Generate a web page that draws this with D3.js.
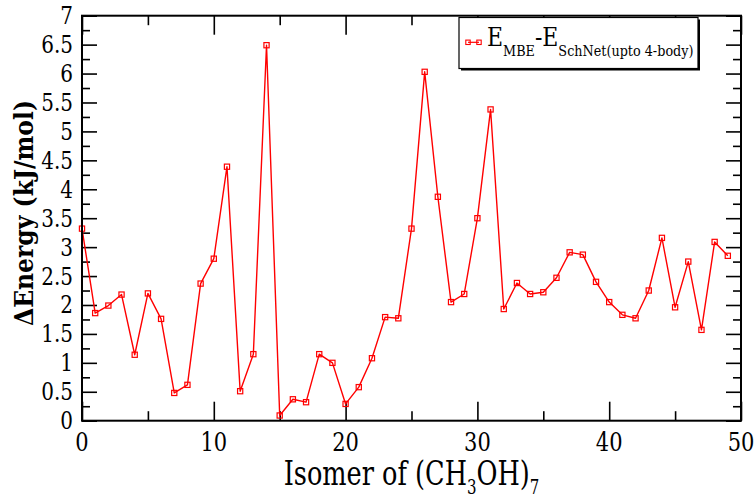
<!DOCTYPE html>
<html>
<head>
<meta charset="utf-8">
<script src="https://cdn.jsdelivr.net/npm/d3@7"></script>
<style>
  html, body { margin: 0; padding: 0; background: #fff; }
  svg { display: block; }
</style>
</head>
<body>
<div id="chart"></div>
<script>
// isomer index and energy difference (kJ/mol)
const isomers = [0,1,2,3,4,5,6,7,8,9,10,11,12,13,14,15,16,17,18,19,20,21,22,23,24,
  25,26,27,28,29,30,31,32,33,34,35,36,37,38,39,40,41,42,43,44,45,46,47,48,49];
const deltaE = [3.32,1.86,1.99,2.18,1.14,2.20,1.76,0.48,0.62,2.37,2.80,4.39,0.51,1.15,6.49,
  0.09,0.37,0.32,1.15,1.00,0.29,0.58,1.08,1.79,1.77,3.32,6.03,3.87,2.05,2.19,3.50,5.38,
  1.93,2.38,2.19,2.22,2.47,2.91,2.87,2.40,2.05,1.83,1.77,2.25,3.16,1.96,2.75,1.57,3.09,2.85];

const xMajor = [0,10,20,30,40,50];
const xMinor = [5,15,25,35,45];
const yMajor = [0,0.5,1,1.5,2,2.5,3,3.5,4,4.5,5,5.5,6,6.5,7];
const yMinor = [0.25,0.75,1.25,1.75,2.25,2.75,3.25,3.75,4.25,4.75,5.25,5.75,6.25,6.75];

const width = 756;
const height = 497;
const plotL = 82, plotR = 741, plotT = 15.7, plotB = 420.7;
const serif = 'DejaVu Serif';
const stretch = 1.2; // the original picture is taller than its fonts are wide

const x = d3.scaleLinear().domain([0, 50]).range([plotL, plotR]);
const y = d3.scaleLinear().domain([0, 7]).range([plotB, plotT]);

const svg = d3.select('#chart')
  .append('svg')
  .attr('width', width)
  .attr('height', height)
  .attr('viewBox', [0, 0, width, height]);

// ticks on all four sides, pointing inwards
function tickAxis(axis, values, size, at) {
  const g = svg.append('g')
    .attr('transform', at)
    .call(axis.tickValues(values).tickSize(size).tickSizeOuter(0).tickFormat(''));
  g.select('.domain').remove();
  g.selectAll('line').attr('stroke', '#000').attr('stroke-width', 1.6);
  g.selectAll('text').remove();
  return g;
}

tickAxis(d3.axisBottom(x), xMajor, -19, `translate(0,${plotB})`);
tickAxis(d3.axisBottom(x), xMinor, -9.5, `translate(0,${plotB})`);
tickAxis(d3.axisTop(x), xMajor, -19, `translate(0,${plotT})`);
tickAxis(d3.axisTop(x), xMinor, -9.5, `translate(0,${plotT})`);
tickAxis(d3.axisLeft(y), yMajor, -15, `translate(${plotL},0)`);
tickAxis(d3.axisLeft(y), yMinor, -8, `translate(${plotL},0)`);
tickAxis(d3.axisRight(y), yMajor, -15, `translate(${plotR},0)`);
tickAxis(d3.axisRight(y), yMinor, -8, `translate(${plotR},0)`);

// tick labels
svg.append('g')
  .selectAll('text')
  .data(xMajor)
  .join('text')
  .attr('transform', d => `translate(${x(d)},${plotB + 30}) scale(1,${stretch})`)
  .attr('text-anchor', 'middle')
  .attr('font-family', serif)
  .attr('font-size', 21)
  .text(d => d3.format('d')(d));

svg.append('g')
  .selectAll('text')
  .data(yMajor)
  .join('text')
  .attr('transform', d => `translate(${plotL - 9},${y(d) + 8.5}) scale(1,${stretch})`)
  .attr('text-anchor', 'end')
  .attr('font-family', serif)
  .attr('font-size', 20)
  .text(d => (d % 1 === 0 ? d3.format('d')(d) : d3.format('.1f')(d)));

// the series
const line = d3.line().x((d, i) => x(isomers[i])).y(d => y(d));

svg.append('path')
  .datum(deltaE)
  .attr('fill', 'none')
  .attr('stroke', '#ff0000')
  .attr('stroke-width', 1.4)
  .attr('stroke-linejoin', 'round')
  .attr('d', line);

svg.append('g')
  .selectAll('rect')
  .data(deltaE)
  .join('rect')
  .attr('x', (d, i) => x(isomers[i]) - 2.6)
  .attr('y', d => y(d) - 2.6)
  .attr('width', 5.2)
  .attr('height', 5.2)
  .attr('fill', 'none')
  .attr('stroke', '#ff0000')
  .attr('stroke-width', 1.2);

// frame
svg.append('rect')
  .attr('x', plotL)
  .attr('y', plotT)
  .attr('width', plotR - plotL)
  .attr('height', plotB - plotT)
  .attr('fill', 'none')
  .attr('stroke', '#000')
  .attr('stroke-width', 2);

// legend box with xmgrace style shadow
const lg = svg.append('g');
lg.append('rect')
  .attr('x', 461).attr('y', 19.5).attr('width', 239).attr('height', 51)
  .attr('fill', '#000');
lg.append('rect')
  .attr('x', 459).attr('y', 17.5).attr('width', 239).attr('height', 51)
  .attr('fill', '#fff').attr('stroke', '#000').attr('stroke-width', 1.2);
lg.append('line')
  .attr('x1', 468).attr('x2', 479).attr('y1', 42.3).attr('y2', 42.3)
  .attr('stroke', '#ff0000').attr('stroke-width', 1.2);
lg.selectAll('rect.sym')
  .data([468, 479])
  .join('rect')
  .attr('class', 'sym')
  .attr('x', d => d - 2.2).attr('y', 40.1).attr('width', 4.4).attr('height', 4.4)
  .attr('fill', 'none').attr('stroke', '#ff0000').attr('stroke-width', 1.1);

const legendText = lg.append('text')
  .attr('transform', `translate(487,46) scale(1,${stretch})`)
  .attr('font-family', serif)
  .attr('font-size', 22);
legendText.append('tspan').text('E');
legendText.append('tspan').attr('font-size', 12.8).attr('dy', 8).text('MBE');
legendText.append('tspan').attr('dy', -8).text('-E');
legendText.append('tspan').attr('font-size', 12.8).attr('dy', 8).text('SchNet(upto 4-body)');

// axis titles
const xTitle = svg.append('text')
  .attr('transform', `translate(${(plotL + plotR) / 2},484.5) scale(1,1.3)`)
  .attr('text-anchor', 'middle')
  .attr('font-family', serif)
  .attr('font-size', 25.6);
xTitle.append('tspan').text('Isomer of (CH');
xTitle.append('tspan').attr('font-size', 15).attr('dy', 7).text('3');
xTitle.append('tspan').attr('dy', -7).text('OH)');
xTitle.append('tspan').attr('font-size', 15).attr('dy', 7).text('7');

svg.append('text')
  .attr('transform', `translate(33,213) scale(1.12,1.02) rotate(-90)`)
  .attr('text-anchor', 'middle')
  .attr('font-family', serif)
  .attr('font-weight', 'bold')
  .attr('font-size', 23)
  .text('ΔEnergy (kJ/mol)');
</script>
</body>
</html>
